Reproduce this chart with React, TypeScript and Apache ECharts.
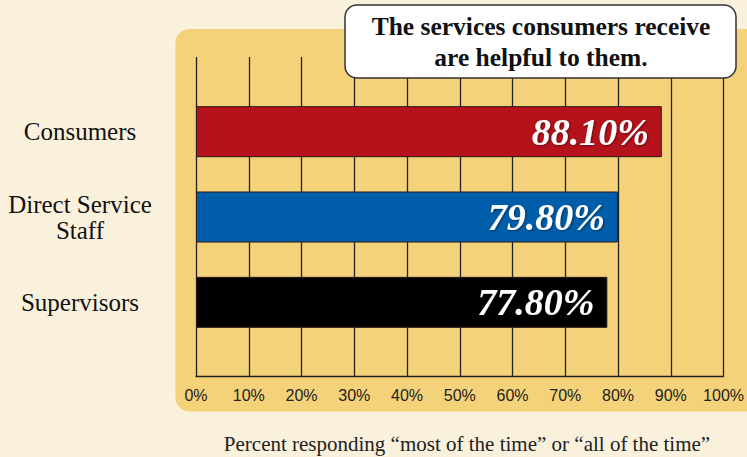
import React, { useEffect, useRef } from "react";
import * as echarts from "echarts";

const categories = ["Consumers", "Direct Service\nStaff", "Supervisors"];
const values = [88.1, 79.8, 77.8];
const barColors = ["#B5121B", "#005DAA", "#000000"];
const titleText = "The services consumers receive\nare helpful to them.";
const axisTitle = "Percent responding \u201cmost of the time\u201d or \u201call of the time\u201d";

export default function App() {
  const ref = useRef<HTMLDivElement>(null);
  useEffect(() => {
    document.body.style.margin = "0";
    const chart = echarts.init(ref.current!, null, { renderer: "svg" });
    const gridLeft = 196;
    const gridWidth = 528.7;
    chart.setOption({
      animation: false,
      backgroundColor: "#FAF1DC",
      grid: [
        { left: gridLeft, width: gridWidth, top: 57, height: 319 },
        { left: gridLeft, width: gridWidth, top: 89, height: 256 },
      ],
      xAxis: [
        {
          gridIndex: 0,
          type: "value",
          min: 0,
          max: 100,
          interval: 10,
          axisLine: { show: true, lineStyle: { color: "#222", width: 1.3 } },
          axisTick: { show: false },
          splitLine: { show: true, lineStyle: { color: "#222", width: 1.3 } },
          axisLabel: {
            formatter: "{value}%",
            fontFamily: "Liberation Sans, Arial, sans-serif",
            fontSize: 16,
            color: "#222",
            margin: 11,
          },
        },
        {
          gridIndex: 1,
          type: "value",
          min: 0,
          max: 100,
          show: false,
        },
      ],
      yAxis: [
        { gridIndex: 0, type: "value", min: 0, max: 1, show: false },
        {
          gridIndex: 1,
          type: "category",
          inverse: true,
          data: categories,
          axisLine: { show: false },
          axisTick: { show: false },
          axisLabel: {
            fontFamily: "Liberation Serif, Times New Roman, serif",
            fontSize: 25,
            lineHeight: 26,
            color: "#111",
            align: "center",
            margin: gridLeft - 80,
          },
        },
      ],
      series: [
        { type: "line", xAxisIndex: 0, yAxisIndex: 0, data: [] },
        {
          type: "bar",
          xAxisIndex: 1,
          yAxisIndex: 1,
          barWidth: 51,
          data: values.map((v, i) => ({
            value: v,
            itemStyle: { color: barColors[i], borderColor: "#2a1a1a", borderWidth: 1 },
          })),
          label: {
            show: true,
            position: "insideRight",
            distance: 13,
            formatter: (p: any) => p.value.toFixed(2) + "%",
            fontFamily: "Liberation Serif, Times New Roman, serif",
            fontStyle: "italic",
            fontWeight: "bold",
            fontSize: 38,
            color: "#fff",
            textShadowColor: "rgba(0,0,0,0.45)",
            textShadowBlur: 2,
            textShadowOffsetX: 1,
            textShadowOffsetY: 1,
          },
        },
      ],
      graphic: [
        {
          type: "rect",
          z: -1,
          shape: { x: 175.5, y: 29, width: 600, height: 382.5, r: 14 },
          style: { fill: "#F4D27A" },
        },
        {
          type: "rect",
          z: 100,
          shape: { x: 345, y: 5, width: 391, height: 73, r: 12 },
          style: { fill: "#fff", stroke: "#333", lineWidth: 1.5 },
        },
        {
          type: "text",
          z: 101,
          x: 541,
          y: 41.5,
          style: {
            text: titleText,
            fontFamily: "Liberation Serif, Times New Roman, serif",
            fontWeight: "bold",
            fontSize: 25.5,
            lineHeight: 31,
            fill: "#111",
            align: "center",
            verticalAlign: "middle",
          },
        },
        {
          type: "text",
          x: 467,
          y: 444,
          style: {
            text: axisTitle,
            fontFamily: "Liberation Serif, Times New Roman, serif",
            fontSize: 21,
            fill: "#222",
            align: "center",
            verticalAlign: "middle",
          },
        },
      ],
    });
    return () => chart.dispose();
  }, []);
  return (
    <div
      ref={ref}
      style={{ position: "absolute", left: 0, top: 0, width: 747, height: 457 }}
    />
  );
}
